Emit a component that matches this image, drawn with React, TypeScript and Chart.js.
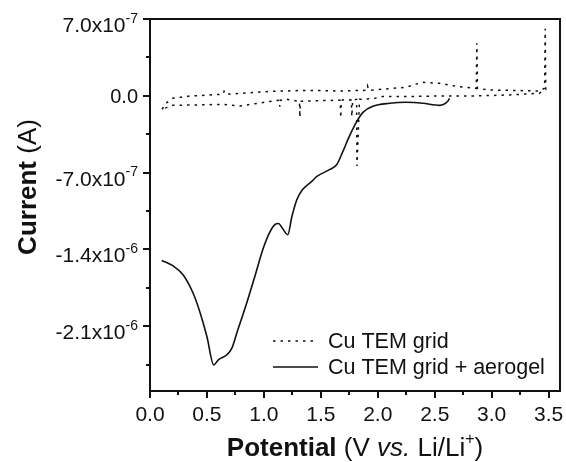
import { useEffect, useRef } from 'react';
import { Chart, registerables } from 'chart.js';

Chart.register(...registerables);

// ---- Data (Potential in V vs Li/Li+, Current in A) ----
const potentialCuGrid = [
  0.105, 0.15, 0.2, 0.35, 0.64, 0.65, 0.66, 1.08, 1.38, 1.67, 1.9, 1.91, 1.92, 1.96, 2.25, 2.39, 2.54, 2.69,
  2.865, 2.87, 2.875, 2.98, 3.42, 3.465, 3.47, 3.475, 3.42, 3.13, 2.83, 2.54, 2.25, 2.04, 1.96, 1.84, 1.817,
  1.814, 1.78, 1.772, 1.768, 1.73, 1.68, 1.675, 1.67, 1.38, 1.32, 1.316, 1.312, 1.2, 1.145, 1.14, 1.135, 1.08,
  0.79, 0.64, 0.2, 0.15, 0.105,
];
const currentCuGrid = [
  -1.23e-7, -6.0e-8, -2.3e-8, -2e-9, 1.4e-8, 4.0e-8, 1.4e-8, 4.1e-8, 5.0e-8, 4.4e-8, 5.0e-8, 9.0e-8, 5.0e-8, 5.3e-8,
  7.8e-8, 1.23e-7, 1.14e-7, 8.7e-8, 6.8e-8, 4.8e-7, 6.8e-8, 5.3e-8, 4.4e-8, 7.0e-8, 6.1e-7, 6.0e-8, 2.3e-8, 7e-9,
  -2e-9, -2e-9, -7e-9, -7e-9, -2.6e-8, -3.2e-8, -6.4e-7, -3.2e-8, -4.0e-8, -1.9e-7, -4.0e-8, -3.2e-8, -4.0e-8,
  -2.0e-7, -4.0e-8, -4.7e-8, -5.0e-8, -1.96e-7, -5.0e-8, -3.2e-8, -4.0e-8, -1.0e-7, -4.0e-8, -4.7e-8, -9.3e-8,
  -7.8e-8, -8.7e-8, -1.05e-7, -1.23e-7,
];
const potentialAerogel = [
  0.103, 0.2, 0.29, 0.377, 0.44, 0.5, 0.56, 0.6, 0.675, 0.72, 0.763, 0.85, 0.92, 0.99, 1.05, 1.096, 1.13, 1.158,
  1.21, 1.246, 1.29, 1.34, 1.42, 1.465, 1.58, 1.64, 1.69, 1.75, 1.816, 1.87, 1.956, 2.105, 2.254, 2.395, 2.544,
  2.614, 2.63,
];
const currentAerogel = [
  -1.5e-6, -1.548e-6, -1.63e-6, -1.795e-6, -1.977e-6, -2.196e-6, -2.452e-6, -2.406e-6, -2.36e-6, -2.297e-6,
  -2.16e-6, -1.886e-6, -1.648e-6, -1.402e-6, -1.247e-6, -1.174e-6, -1.164e-6, -1.2e-6, -1.265e-6, -1.1e-6,
  -9.45e-7, -8.54e-7, -7.8e-7, -7.35e-7, -6.71e-7, -6.26e-7, -5.16e-7, -3.7e-7, -2.33e-7, -1.51e-7, -9.6e-8,
  -6.8e-8, -5.9e-8, -6.8e-8, -8.7e-8, -5.0e-8, -2.3e-8,
];
const seriesLabels = ['Cu TEM grid', 'Cu TEM grid + aerogel'];

const xMajorTicks = [0, 0.5, 1.0, 1.5, 2.0, 2.5, 3.0, 3.5];
const xTickLabels = ['0.0', '0.5', '1.0', '1.5', '2.0', '2.5', '3.0', '3.5'];
const xMinorTicks = [0.25, 0.75, 1.25, 1.75, 2.25, 2.75, 3.25];
const yMajorTicks = [-2.1e-6, -1.4e-6, -7.0e-7, 0, 7.0e-7];
const yTickMantissas = ['-2.1x10', '-1.4x10', '-7.0x10', '0.0', '7.0x10'];
const yTickExponents = ['-6', '-6', '-7', '', '-7'];
const yMinorTicks = [-2.45e-6, -1.75e-6, -1.05e-6, -3.5e-7, 3.5e-7];

const X_MIN = 0;
const X_MAX = 3.6;
const Y_MIN = -2.69e-6;
const Y_MAX = 7.0e-7;

const FONT = 'Arial, "Liberation Sans", Helvetica, sans-serif';
const INK = '#111111';

const decorPlugin = {
  id: 'decor',
  afterDraw(chart: any) {
    const ctx = chart.ctx as CanvasRenderingContext2D;
    const { left, right, top, bottom } = chart.chartArea;
    const xs = chart.scales.x;
    const ys = chart.scales.y;
    ctx.save();
    ctx.strokeStyle = INK;
    ctx.fillStyle = INK;
    ctx.lineWidth = 2;
    ctx.strokeRect(left, top, right - left, bottom - top);

    // ticks
    ctx.beginPath();
    xMajorTicks.forEach((v) => {
      const px = Math.round(xs.getPixelForValue(v));
      ctx.moveTo(px, bottom);
      ctx.lineTo(px, bottom + 7);
    });
    xMinorTicks.forEach((v) => {
      const px = Math.round(xs.getPixelForValue(v));
      ctx.moveTo(px, bottom);
      ctx.lineTo(px, bottom + 4);
    });
    yMajorTicks.forEach((v) => {
      const py = Math.round(ys.getPixelForValue(v));
      ctx.moveTo(left, py);
      ctx.lineTo(left - 7, py);
    });
    yMinorTicks.forEach((v) => {
      const py = Math.round(ys.getPixelForValue(v));
      ctx.moveTo(left, py);
      ctx.lineTo(left - 4, py);
    });
    ctx.stroke();

    // x tick labels
    ctx.font = `21px ${FONT}`;
    ctx.textAlign = 'center';
    ctx.textBaseline = 'alphabetic';
    xMajorTicks.forEach((v, i) => {
      ctx.fillText(xTickLabels[i], xs.getPixelForValue(v), bottom + 30);
    });

    // y tick labels with superscript exponent
    const rightEdge = left - 12;
    yMajorTicks.forEach((v, i) => {
      const py = ys.getPixelForValue(v);
      const base = yTickMantissas[i];
      const exp = yTickExponents[i];
      ctx.textAlign = 'left';
      if (!exp) {
        ctx.font = `20px ${FONT}`;
        const w = ctx.measureText(base).width;
        ctx.fillText(base, rightEdge - w, py + 7.5);
        return;
      }
      ctx.font = `14px ${FONT}`;
      const we = ctx.measureText(exp).width;
      ctx.font = `21px ${FONT}`;
      const wb = ctx.measureText(base).width;
      const baseline = py + 13;
      ctx.fillText(base, rightEdge - we - wb, baseline);
      ctx.font = `14px ${FONT}`;
      ctx.fillText(exp, rightEdge - we, baseline - 9.5);
    });

    // x title: Potential (V vs. Li/Li+)
    const xParts: [string, string][] = [
      ['Potential', `bold 26px ${FONT}`],
      [' (V ', `26px ${FONT}`],
      ['vs.', `italic 26px ${FONT}`],
      [' Li/Li', `26px ${FONT}`],
      ['+', `16px ${FONT}`],
      [')', `26px ${FONT}`],
    ];
    let total = 0;
    xParts.forEach(([t, f]) => {
      ctx.font = f;
      total += ctx.measureText(t).width;
    });
    let cx = (left + right) / 2 - total / 2;
    const tb = 456;
    ctx.textAlign = 'left';
    xParts.forEach(([t, f]) => {
      ctx.font = f;
      ctx.fillText(t, cx, t === '+' ? tb - 12 : tb);
      cx += ctx.measureText(t).width;
    });

    // y title: Current (A)
    ctx.save();
    ctx.translate(36, 187);
    ctx.rotate(-Math.PI / 2);
    const yParts: [string, string][] = [
      ['Current', `bold 26px ${FONT}`],
      [' (A)', `26px ${FONT}`],
    ];
    let ytotal = 0;
    yParts.forEach(([t, f]) => {
      ctx.font = f;
      ytotal += ctx.measureText(t).width;
    });
    let cy = -ytotal / 2;
    yParts.forEach(([t, f]) => {
      ctx.font = f;
      ctx.fillText(t, cy, 0);
      cy += ctx.measureText(t).width;
    });
    ctx.restore();

    // legend
    const lx0 = 273;
    const lx1 = 318;
    const rows = [341, 367];
    ctx.font = `21.5px ${FONT}`;
    ctx.textBaseline = 'middle';
    ctx.textAlign = 'left';
    chart.data.datasets.forEach((ds: any, i: number) => {
      ctx.save();
      ctx.lineWidth = 1.5;
      ctx.strokeStyle = INK;
      ctx.setLineDash(ds.borderDash || []);
      ctx.beginPath();
      ctx.moveTo(lx0, rows[i]);
      ctx.lineTo(lx1, rows[i]);
      ctx.stroke();
      ctx.restore();
      ctx.fillText(seriesLabels[i], 328, rows[i] + 1);
    });
    ctx.restore();
  },
};

export default function App() {
  const canvasRef = useRef<HTMLCanvasElement | null>(null);

  useEffect(() => {
    if (!canvasRef.current) return;
    const cuPoints = potentialCuGrid.map((x, i) => ({ x, y: currentCuGrid[i] }));
    const aeroPoints = potentialAerogel.map((x, i) => ({ x, y: currentAerogel[i] }));
    const chart = new Chart(canvasRef.current, {
      type: 'line',
      data: {
        datasets: [
          {
            label: seriesLabels[0],
            data: cuPoints,
            borderColor: INK,
            borderWidth: 1.5,
            borderDash: [2.5, 5],
            pointRadius: 0,
            tension: 0,
            fill: false,
          },
          {
            label: seriesLabels[1],
            data: aeroPoints,
            borderColor: INK,
            borderWidth: 1.6,
            pointRadius: 0,
            tension: 0.35,
            cubicInterpolationMode: 'monotone',
            fill: false,
          },
        ],
      },
      options: {
        animation: false,
        responsive: false,
        maintainAspectRatio: false,
        layout: { padding: { top: 19, right: 6, left: 0, bottom: 0 } },
        plugins: { legend: { display: false }, tooltip: { enabled: false }, title: { display: false } },
        scales: {
          x: {
            type: 'linear',
            min: X_MIN,
            max: X_MAX,
            grid: { display: false },
            border: { display: false },
            ticks: { display: false },
            afterFit: (s: any) => {
              s.height = 71;
            },
          },
          y: {
            type: 'linear',
            min: Y_MIN,
            max: Y_MAX,
            grid: { display: false },
            border: { display: false },
            ticks: { display: false },
            afterFit: (s: any) => {
              s.width = 150;
            },
          },
        },
      } as any,
      plugins: [decorPlugin],
    });
    return () => chart.destroy();
  }, []);

  return (
    <div style={{ position: 'fixed', left: 0, top: 0, width: 566, height: 462, background: '#fff' }}>
      <canvas ref={canvasRef} width={566} height={462} style={{ display: 'block', width: 566, height: 462 }} />
    </div>
  );
}
